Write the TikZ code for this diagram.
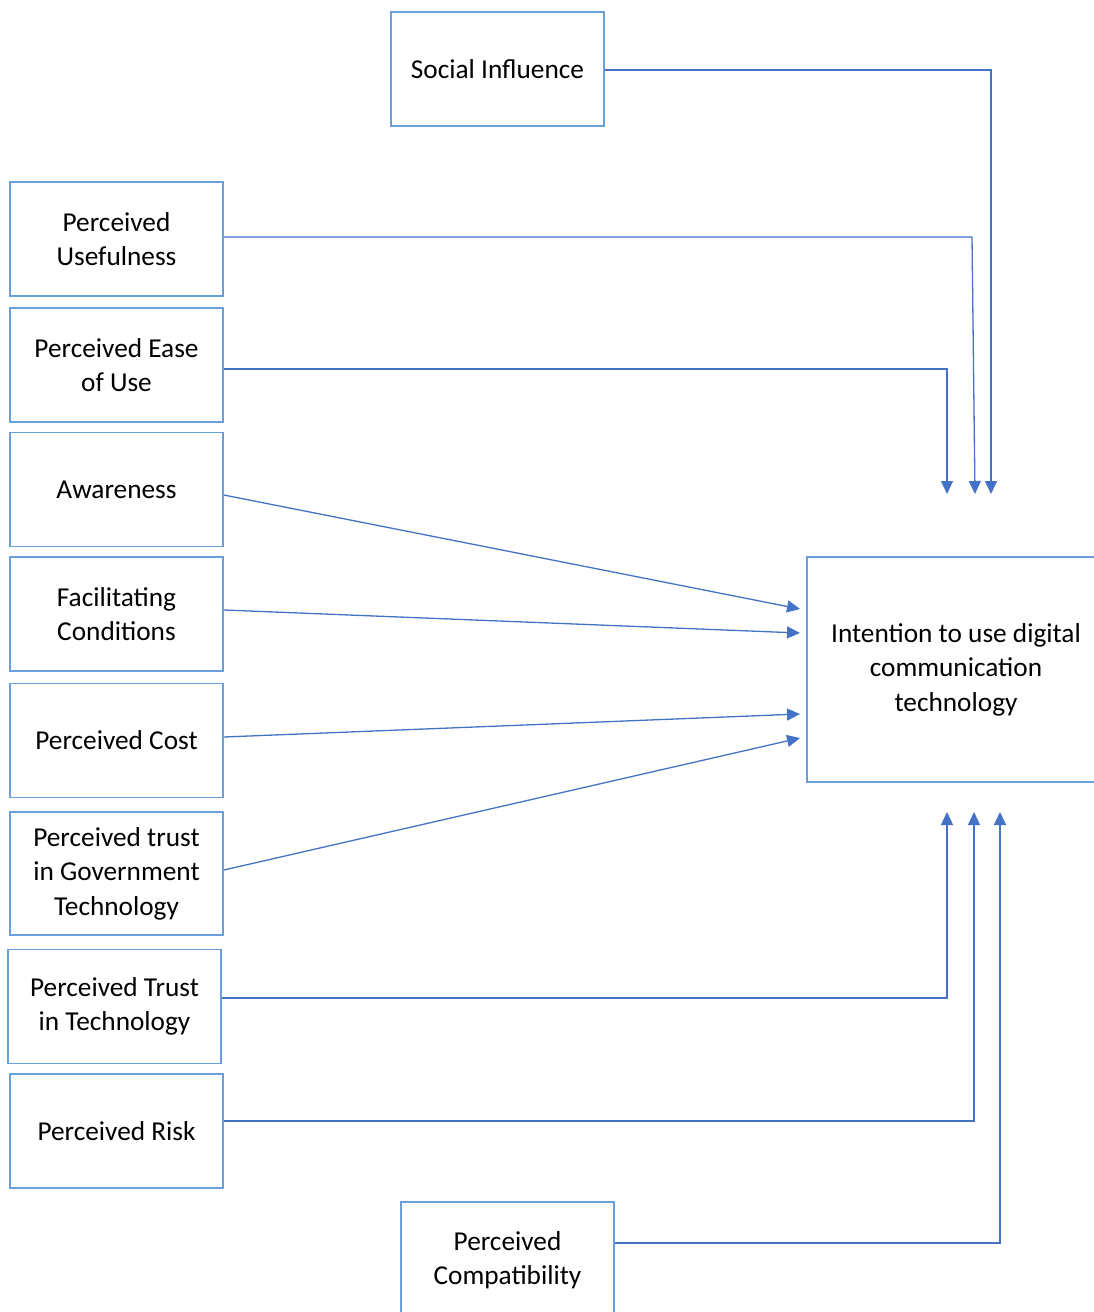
\documentclass[tikz,border=0pt]{standalone}
\usepackage{fontspec}
\setmainfont{Carlito}
\usetikzlibrary{arrows.meta}
\definecolor{boxblue}{HTML}{6A9FDB}
\definecolor{lineblue}{HTML}{4472C4}
\begin{document}
\begin{tikzpicture}[x=1pt,y=-1pt,
  fbox/.style={draw=boxblue,line width=1.7pt,minimum width=213pt,minimum height=114pt,
    align=center,inner sep=0pt,text=black,font=\fontsize{27.3}{34.5}\selectfont},
  conn/.style={draw=lineblue,line width=1.3pt},
  arr/.style={conn,-{Triangle[length=13pt,width=12pt]}}]
\useasboundingbox (0,0) rectangle (1094,1312);
\node[fbox] (si) at (497.5,69) {Social Influence};
\node[fbox] (pu) at (116.5,239) {Perceived\\Usefulness};
\node[fbox] (pe) at (116.5,365) {Perceived Ease\\of Use};
\node[fbox] (aw) at (116.5,489.5) {Awareness};
\node[fbox] (fc) at (116.5,614) {Facilitating\\Conditions};
\node[fbox] (pc) at (116.5,740.5) {Perceived Cost};
\node[fbox,minimum height=123pt] (pg) at (116.5,873.5) {Perceived trust\\in Government\\Technology};
\node[fbox] (pt) at (114.5,1006.5) {Perceived Trust\\in Technology};
\node[fbox] (pr) at (116.5,1131) {Perceived Risk};
\node[fbox,minimum height=116pt] (pm) at (507.5,1260) {Perceived\\Compatibility};
\node[fbox,minimum width=298pt,minimum height=225pt] (it) at (956,669.5) {Intention to use digital\\communication\\technology};
% free ends
\coordinate (c1) at (991,70);
\coordinate (e1) at (991,494);
\coordinate (c2) at (972,237);
\coordinate (e2) at (975,494);
\coordinate (c3) at (947,369);
\coordinate (e3) at (947,494);
\coordinate (e4) at (800,609);
\coordinate (e5) at (800,633);
\coordinate (e6) at (800,714);
\coordinate (e7) at (800,738);
\coordinate (c8) at (947,998);
\coordinate (e8) at (947,812);
\coordinate (c9) at (974,1121);
\coordinate (e9) at (974,812);
\coordinate (c10) at (1000,1243);
\coordinate (e10) at (1000,812);
\draw[arr] (si.east |- c1) -- (c1) -- (e1);
\draw[arr] (pu.east |- c2) -- (c2) -- (e2);
\draw[arr] (pe.east |- c3) -- (c3) -- (e3);
\draw[arr] (aw.east |- 0,495) -- (e4);
\draw[arr] (fc.east |- 0,610) -- (e5);
\draw[arr] (pc.east |- 0,737) -- (e6);
\draw[arr] (pg.east |- 0,870) -- (e7);
\draw[arr] (pt.east |- c8) -- (c8) -- (e8);
\draw[arr] (pr.east |- c9) -- (c9) -- (e9);
\draw[arr] (pm.east |- c10) -- (c10) -- (e10);
\end{tikzpicture}
\end{document}
